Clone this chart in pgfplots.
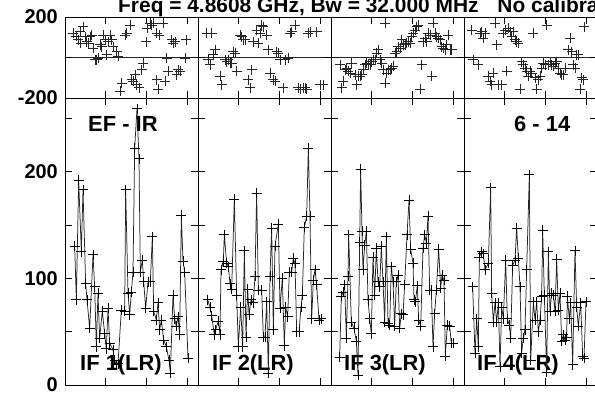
\documentclass[border=0pt]{standalone}
\usepackage{pgfplots}
\pgfplotsset{compat=1.18}
\usepackage{fontspec}
\setmainfont{Liberation Sans}
\begin{document}
\begin{tikzpicture}
\pgfplotsset{
  panel/.style={scale only axis, width=133bp, anchor=south west,
    axis line style={black, line width=0.9bp},
    tick align=inside, tick pos=both, major tick length=7bp,
    every tick/.style={black, line width=0.8bp},
    xticklabels={},
    yticklabel style={font=\fontsize{20}{20}\selectfont\bfseries, inner sep=0pt, xshift=-7bp}},
  amp/.style={panel, height=287bp, ymin=0, ymax=269, ytick={0,50,100,150,200,250}, yticklabels={}},
  ph/.style={panel, height=81bp, ymin=-200, ymax=200, ytick={-200,0,200}, yticklabels={},
    ymajorgrids, major grid style={black!85, line width=0.8bp}},
  aline/.style={black!85, line width=0.75bp, mark=+, mark size=5bp, mark options={black, line width=0.75bp}},
  pmark/.style={only marks, mark=+, mark size=5bp, mark options={black!85, line width=0.9bp}},
}
\tikzset{lab/.style={anchor=base west, inner sep=0pt, font=\fontsize{22}{22}\selectfont\bfseries}}
% labels
\node[anchor=base west, inner sep=0pt, font=\fontsize{21}{21}\selectfont\bfseries] at (118bp,381bp) {Freq = 4.8608 GHz, Bw = 32.000 MHz\hspace{0.9em}No calibration};
\node[lab] at (88bp,262bp) {EF - IR};
\node[lab] at (514bp,262bp) {6 - 14};
\node[lab] at (80bp,24bp) {IF 1(LR)};
\node[lab] at (212bp,24bp) {IF 2(LR)};
\node[lab] at (344bp,24bp) {IF 3(LR)};
\node[lab] at (477bp,24bp) {IF 4(LR)};

% ---------- amplitude panels ----------
\begin{axis}[amp, at={(65bp,9bp)}, xmin=6, xmax=405, xtick={128,250,372}, yticklabels={0,,100,,200,}]
\addplot[aline] coordinates {(35,130)(40,80)(47,192)(55,125)(60,183)(68,95)(72,80)(80,53)(90,122)(95,92)(100,36)(105,86)(110,44)(118,69)(125,48)(130,34)(135,72)(140,39)(150,33)(155,23)(160,19)(165,20)(175,70)(185,69)(188,183)(195,86)(200,66)(205,87)(210,106)(215,222)(222,259)(228,212)(232,106)(238,117)(242,97)(248,72)(255,97)(262,97)(268,139)(272,69)(280,61)(285,77)(290,52)(295,61)(302,42)(310,36)(318,23)(322,11)(330,84)(335,62)(340,55)(345,64)(350,47)(355,159)(360,116)(365,106)(375,25)};
\end{axis}
\begin{axis}[amp, at={(198bp,9bp)}, xmin=9, xmax=408, xtick={131,253,375}]
\addplot[aline] coordinates {(38,80)(45,73)(50,65)(58,47)(62,52)(70,60)(75,47)(78,108)(85,116)(88,141)(95,114)(100,111)(105,95)(110,90)(118,174)(125,84)(130,36)(137,73)(143,36)(148,126)(153,45)(158,90)(162,66)(168,80)(175,77)(180,102)(185,180)(190,89)(200,89)(205,45)(210,45)(215,78)(220,11)(225,102)(230,147)(235,52)(240,130)(250,151)(255,72)(262,100)(268,37)(272,73)(278,64)(283,106)(290,106)(295,119)(300,114)(305,50)(312,50)(318,73)(322,84)(328,148)(335,158)(340,222)(345,158)(350,62)(355,98)(360,108)(365,94)(372,61)(378,62)};
\end{axis}
\begin{axis}[amp, at={(331bp,9bp)}, xmin=9, xmax=408, xtick={131,253,375}]
\addplot[aline] coordinates {(35,26)(40,83)(45,87)(50,94)(55,44)(60,102)(62,141)(70,59)(78,53)(85,41)(90,9)(95,134)(98,202)(102,144)(105,108)(110,131)(115,144)(120,80)(125,62)(130,48)(135,120)(140,84)(145,128)(150,97)(155,92)(160,130)(165,97)(170,59)(175,139)(180,58)(185,56)(190,111)(195,97)(200,55)(205,97)(210,103)(215,53)(220,67)(225,66)(230,94)(237,141)(243,173)(248,127)(255,114)(258,80)(262,78)(268,93)(272,61)(278,55)(285,128)(290,141)(295,133)(300,158)(305,89)(310,89)(315,36)(320,67)(325,89)(332,127)(338,91)(342,103)(348,98)(352,27)(358,56)(365,55)(370,39)(375,39)};
\end{axis}
\begin{axis}[amp, at={(464bp,9bp)}, xmin=12, xmax=411, xtick={134,256,378}]
\addplot[aline] coordinates {(38,92)(45,30)(50,62)(55,36)(58,120)(65,125)(70,123)(75,108)(85,114)(92,185)(95,86)(100,59)(105,77)(110,59)(115,77)(120,17)(125,73)(130,62)(137,117)(142,62)(148,56)(152,44)(158,112)(165,117)(170,147)(175,119)(180,92)(185,30)(190,44)(195,52)(200,108)(208,197)(212,23)(220,78)(225,61)(230,78)(235,50)(240,61)(245,83)(248,145)(253,84)(260,12)(265,125)(270,69)(275,86)(280,84)(285,69)(290,118)(295,70)(300,86)(305,41)(310,47)(315,42)(320,45)(322,83)(328,62)(332,77)(338,19)(345,126)(350,73)(355,55)(362,77)(368,27)(372,25)(378,78)};
\end{axis}

% ---------- phase panels ----------
\begin{axis}[ph, at={(65bp,296bp)}, xmin=15, xmax=414, xtick={137,259,381}, yticklabels={-200,,200}]
\addplot[pmark] coordinates {(40,119)(48,106)(55,87)(60,127)(62,70)(70,152)(75,103)(80,78)(85,70)(90,103)(95,111)(100,46)(105,-11)(110,-11)(115,-3)(120,62)(125,54)(130,111)(135,87)(140,13)(145,78)(150,111)(155,87)(160,54)(170,29)(175,5)(180,-167)(185,-126)(195,111)(200,119)(210,160)(215,-109)(220,-118)(225,-85)(230,-134)(238,-150)(245,-60)(250,-28)(258,78)(262,144)(270,168)(275,160)(280,168)(290,119)(290,-109)(295,-158)(298,111)(310,168)(315,-118)(320,-3)(325,-69)(335,87)(340,70)(345,78)(350,-85)(355,-60)(360,-69)(375,-3)(378,87)};
\end{axis}
\begin{axis}[ph, at={(198bp,296bp)}, xmin=414, xmax=813, xtick={536,658,780}]
\addplot[pmark] coordinates {(440,119)(445,-11)(450,-36)(455,119)(460,13)(465,38)(480,-93)(485,-134)(495,-11)(500,-20)(505,-11)(510,-28)(515,-28)(520,29)(525,21)(530,-69)(540,111)(545,103)(550,87)(555,87)(565,-109)(570,-150)(575,-60)(580,78)(590,136)(595,70)(600,119)(605,160)(610,152)(620,111)(625,38)(630,-77)(640,-109)(645,-118)(650,29)(655,21)(660,-11)(670,-150)(675,-11)(685,-3)(690,119)(695,127)(705,160)(715,-150)(720,-158)(730,-150)(735,-150)(740,-158)(745,119)(750,127)(770,127)(780,-134)(790,-134)};
\end{axis}
\begin{axis}[ph, at={(331bp,296bp)}, xmin=18, xmax=417, xtick={140,262,384}]
\addplot[pmark] coordinates {(45,-36)(50,-150)(55,-118)(60,-60)(65,-52)(70,-69)(75,-77)(80,-28)(90,-85)(95,-134)(100,-93)(105,-93)(110,-85)(115,-60)(120,-36)(125,-28)(130,-36)(135,-36)(140,-20)(145,-11)(150,-11)(155,21)(160,38)(165,-11)(170,-28)(175,-60)(180,168)(180,-126)(185,-77)(190,-60)(195,-60)(200,-52)(205,-44)(210,21)(215,29)(220,54)(225,46)(230,87)(235,62)(240,62)(245,70)(250,78)(255,70)(260,103)(265,119)(270,136)(275,152)(280,160)(285,-158)(290,-36)(295,78)(300,95)(305,78)(310,119)(315,111)(320,-93)(325,168)(330,119)(335,103)(340,95)(345,87)(350,54)(355,46)(360,38)(365,62)(370,111)(375,38)(380,38)};
\end{axis}
\begin{axis}[ph, at={(464bp,296bp)}, xmin=417, xmax=816, xtick={539,661,783}]
\addplot[pmark] coordinates {(440,136)(445,-11)(460,-36)(465,119)(470,127)(475,95)(480,119)(490,-93)(495,-118)(500,-134)(505,-77)(510,168)(515,62)(520,-134)(530,-134)(535,119)(540,136)(545,-69)(550,144)(555,127)(560,103)(565,127)(570,87)(575,78)(580,70)(585,-158)(590,-20)(595,-36)(600,-52)(605,-69)(610,-93)(615,-69)(620,-77)(625,119)(630,-101)(635,-158)(640,-109)(645,-93)(650,-52)(655,-28)(660,-36)(665,160)(670,-36)(675,-20)(680,-36)(685,-44)(690,-28)(695,-20)(700,-52)(705,-77)(710,-85)(715,-85)(720,-52)(730,38)(735,95)(740,29)(745,-36)(750,-52)(755,13)(760,13)(765,-158)(770,-101)(775,-109)(778,152)};
\end{axis}
\pgfresetboundingbox
\path[use as bounding box] (0,0) rectangle (595bp,394bp);
\end{tikzpicture}
\end{document}
